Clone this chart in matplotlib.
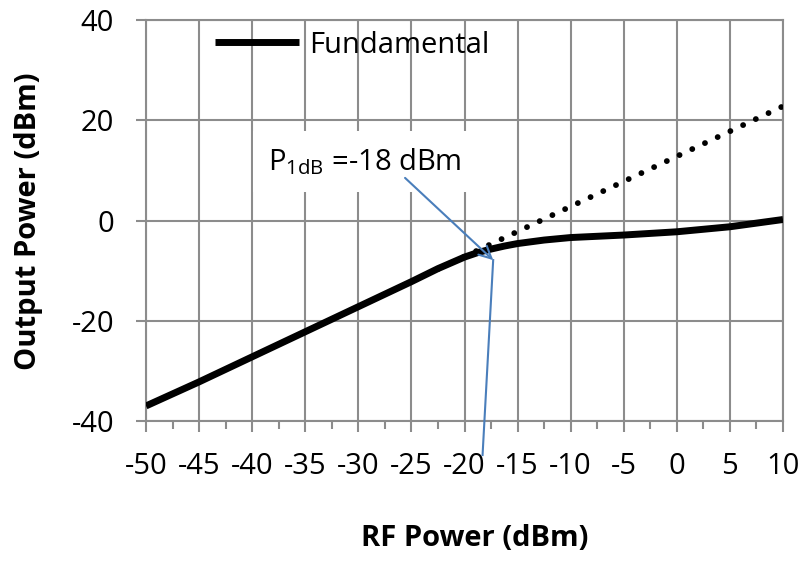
import numpy as np
import matplotlib.pyplot as plt
from matplotlib.ticker import MultipleLocator

FONT = 21
GRID = "#8c8c8c"
ARROW = "#4a7ebb"

plt.rcParams['font.family'] = ['Open Sans', 'DejaVu Sans']
plt.rcParams['mathtext.fontset'] = 'custom'
plt.rcParams['mathtext.rm'] = 'Open Sans'
plt.rcParams['mathtext.it'] = 'Open Sans'
plt.rcParams['axes.unicode_minus'] = False

# measured fundamental output vs input power
rf_power = [-50, -45, -40, -35, -30, -25, -22.5, -20, -18.75, -17.5, -16.25, -15,
            -12.5, -10, -5, 0, 5, 10]
fundamental = [-37.0, -32.2, -27.2, -22.2, -17.2, -12.2, -9.6, -7.3, -6.4, -5.7,
               -5.1, -4.6, -3.9, -3.4, -2.9, -2.25, -1.25, 0.2]

# ideal linear extension (dotted)
lin_power = [-22.5, -20, -15, -10, -5, 0, 5, 10]
lin_output = [-9.7, -7.2, -2.2, 2.8, 7.8, 12.8, 17.8, 22.8]

p1db_label = r"P$_{\mathrm{1dB}}$ =-18 dBm"

fig = plt.figure(figsize=(8.04, 5.61), dpi=100)
ax = fig.add_axes([0.1816, 0.2496, 0.7923, 0.7147])

ax.plot(rf_power, fundamental, color="black", linewidth=5, solid_capstyle='butt',
        solid_joinstyle='round', label="Fundamental", zorder=3)
ax.plot(lin_power, lin_output, color="black", linewidth=4.2,
        linestyle=(0, (0.01, 2.4)), dash_capstyle='round', zorder=3)

ax.set_xlim(-50, 10)
ax.set_ylim(-40, 40)
ax.xaxis.set_major_locator(MultipleLocator(5))
ax.xaxis.set_minor_locator(MultipleLocator(2.5))
ax.yaxis.set_major_locator(MultipleLocator(20))
ax.grid(True, which='major', color=GRID, linewidth=1.5, zorder=0)
ax.set_axisbelow(True)
for s in ax.spines.values():
    s.set_color(GRID)
    s.set_linewidth(1.5)

ax.tick_params(axis='x', which='major', length=8, width=1.5, color=GRID,
               labelsize=FONT, pad=14)
ax.tick_params(axis='x', which='minor', length=6, width=1.5, color=GRID)
ax.tick_params(axis='y', which='major', length=7, width=1.5, color=GRID,
               labelsize=FONT, pad=16)

ax.set_xlabel("RF Power (dBm)", fontsize=FONT, fontweight='bold', va='center')
ax.xaxis.set_label_coords(0.516, -0.294)
ax.set_ylabel("Output Power (dBm)", fontsize=FONT, fontweight='bold',
              va='center', rotation_mode='anchor')
ax.yaxis.set_label_coords(-0.185, 0.498)

# P1dB annotation with white text box hiding the grid behind it
ax.text(-38.5, 11.7, p1db_label, fontsize=FONT, ha='left', va='center', zorder=4,
        bbox=dict(facecolor='white', edgecolor='none', pad=11))
ax.annotate("", xy=(-17.3, -7.9), xytext=(-25.6, 8.5), zorder=5,
            arrowprops=dict(arrowstyle='->', color=ARROW, lw=1.5,
                            mutation_scale=22, shrinkA=0, shrinkB=0))
ax.plot([-18.3, -17.3], [-46.8, -7.9], color=ARROW, linewidth=1.5,
        clip_on=False, zorder=5)

ax.legend(loc='center left', bbox_to_anchor=(0.108, 0.9377), frameon=False,
          fontsize=FONT, borderpad=0, borderaxespad=0, handlelength=2.9,
          handletextpad=0.33)

plt.savefig("out.png", dpi=100)
